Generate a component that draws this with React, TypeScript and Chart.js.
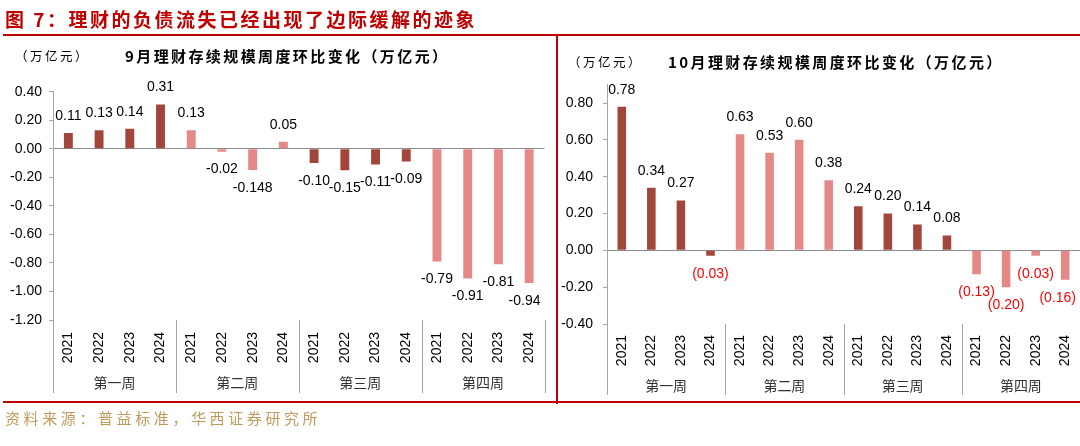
import React, { useEffect, useRef } from 'react';
import { Chart, registerables } from 'chart.js';

Chart.register(...registerables);

// ---- data ----
const years = ['2021', '2022', '2023', '2024'];
const weeks = ['第一周', '第二周', '第三周', '第四周'];
const septValues = [0.11, 0.13, 0.14, 0.31, 0.13, -0.02, -0.148, 0.05, -0.1, -0.15, -0.11, -0.09, -0.79, -0.91, -0.81, -0.94];
const octValues = [0.78, 0.34, 0.27, -0.03, 0.63, 0.53, 0.6, 0.38, 0.24, 0.2, 0.14, 0.08, -0.13, -0.2, -0.03, -0.16];
const septTicks = [-1.2, -1.0, -0.8, -0.6, -0.4, -0.2, 0, 0.2, 0.4];
const octTicks = [-0.4, -0.2, 0, 0.2, 0.4, 0.6, 0.8];
const septRange = [-1.2, 0.4];
const octRange = [-0.4, 0.9];

const mainTitle = '图 7：理财的负债流失已经出现了边际缓解的迹象';
const septTitle = '9月理财存续规模周度环比变化（万亿元）';
const octTitle = '10月理财存续规模周度环比变化（万亿元）';
const unitText = '（万亿元）';
const sourceText = '资料来源：普益标准，华西证券研究所';

const DARK = '#a2463c';
const LIGHT = '#e48987';
const SANS = '"Liberation Sans", Arial, sans-serif';
const CJK = '"Noto Sans CJK SC", sans-serif';

Chart.defaults.font.family = SANS;

const fmt = (v: number) => (Math.round(v * 100) / 100 === v ? v.toFixed(2) : String(v));

const barLabels = {
  id: 'barLabels',
  afterDatasetsDraw(chart: any, _args: any, opts: any) {
    const ctx = chart.ctx;
    const meta = chart.getDatasetMeta(0);
    const data = chart.data.datasets[0].data as number[];
    const area = chart.chartArea;
    ctx.save();
    ctx.font = '14px ' + SANS;
    ctx.textAlign = 'center';
    ctx.textBaseline = 'middle';
    meta.data.forEach((bar: any, i: number) => {
      const v = data[i];
      const neg = v < 0;
      let text = fmt(v);
      ctx.fillStyle = '#000';
      if (opts.paren && neg) {
        text = '(' + Math.abs(v).toFixed(2) + ')';
        ctx.fillStyle = '#ff0000';
      }
      const w = ctx.measureText(text).width;
      const x = Math.min(bar.x, area.right - w / 2 - 4);
      ctx.fillText(text, x, neg ? bar.y + 18 : bar.y - 17);
    });
    ctx.restore();
  },
};

const groupAxis = {
  id: 'groupAxis',
  afterDraw(chart: any, _args: any, opts: any) {
    const ctx = chart.ctx;
    const xs = chart.scales.x;
    const area = chart.chartArea;
    const step = xs.getPixelForValue(1) - xs.getPixelForValue(0);
    const per = years.length;
    ctx.save();
    ctx.strokeStyle = '#a6a6a6';
    ctx.lineWidth = 1;
    for (let g = 0; g <= weeks.length; g++) {
      const px = Math.round(xs.getPixelForValue(g * per) - step / 2) + 0.5;
      ctx.beginPath();
      ctx.moveTo(px, area.bottom);
      ctx.lineTo(px, opts.lineBottom);
      ctx.stroke();
    }
    ctx.font = '14px ' + CJK;
    ctx.fillStyle = '#333';
    ctx.textAlign = 'center';
    ctx.textBaseline = 'middle';
    weeks.forEach((w, g) => {
      const c = (xs.getPixelForValue(g * per) + xs.getPixelForValue(g * per + per - 1)) / 2;
      ctx.fillText(w, c, opts.labelY);
    });
    ctx.restore();
  },
};

type PanelProps = {
  values: number[];
  ticks: number[];
  range: number[];
  left: number;
  width: number;
  padTop: number;
  padRight: number;
  yWidth: number;
  xHeight: number;
  yPad: number;
  xPad: number;
  paren: boolean;
  lineBottom: number;
  labelY: number;
};

function Panel(p: PanelProps) {
  const ref = useRef<HTMLCanvasElement>(null);
  useEffect(() => {
    if (!ref.current) return;
    const labels = weeks.flatMap(() => years);
    const chart = new Chart(ref.current, {
      type: 'bar',
      data: {
        labels,
        datasets: [
          {
            data: p.values,
            backgroundColor: p.values.map((_, i) => (Math.floor(i / years.length) % 2 === 0 ? DARK : LIGHT)),
            barPercentage: 0.29,
            categoryPercentage: 1,
          },
        ],
      },
      options: {
        responsive: false,
        animation: false,
        layout: { padding: { top: p.padTop, right: p.padRight, left: 0, bottom: 0 } },
        plugins: {
          legend: { display: false },
          tooltip: { enabled: false },
          title: { display: false },
          barLabels: { paren: p.paren },
          groupAxis: { lineBottom: p.lineBottom, labelY: p.labelY },
        } as any,
        scales: {
          x: {
            grid: { display: false, drawTicks: false },
            border: { display: false },
            ticks: {
              minRotation: 90,
              maxRotation: 90,
              autoSkip: false,
              padding: p.xPad,
              color: '#000',
              font: { size: 14, family: SANS },
            },
            afterFit: (s: any) => {
              s.height = p.xHeight;
            },
          },
          y: {
            min: p.range[0],
            max: p.range[1],
            afterBuildTicks: (s: any) => {
              s.ticks = p.ticks.map((v) => ({ value: v }));
            },
            ticks: {
              callback: (v: any) => Number(v).toFixed(2),
              padding: p.yPad,
              color: '#000',
              font: { size: 14, family: SANS },
            },
            grid: {
              color: (c: any) => (c.tick && Math.abs(c.tick.value) < 1e-9 ? '#8c8c8c' : 'rgba(0,0,0,0)'),
              tickColor: '#a6a6a6',
              tickLength: 4,
              drawTicks: true,
            },
            border: { color: '#a6a6a6', width: 1 },
            afterFit: (s: any) => {
              s.width = p.yWidth;
            },
          },
        },
      },
      plugins: [barLabels, groupAxis],
    });
    return () => chart.destroy();
  }, []);
  return (
    <canvas
      ref={ref}
      width={p.width}
      height={446}
      style={{ position: 'absolute', left: p.left, top: 0, width: p.width, height: 446 }}
    />
  );
}

const textStyle = (left: number, centerY: number, size: number, extra: any = {}) => ({
  position: 'absolute' as const,
  left,
  top: centerY - 12,
  height: 24,
  lineHeight: '24px',
  fontSize: size,
  fontFamily: CJK,
  whiteSpace: 'nowrap' as const,
  ...extra,
});

export default function App() {
  return (
    <div
      style={{
        position: 'absolute',
        left: 0,
        top: 0,
        width: 1080,
        height: 446,
        overflow: 'hidden',
        background: '#fff',
      }}
    >
      <Panel
        values={septValues}
        ticks={septTicks}
        range={septRange}
        left={0}
        width={570}
        padTop={91.7}
        padRight={25.5}
        yWidth={53}
        xHeight={126}
        yPad={7}
        xPad={12}
        paren={false}
        lineBottom={393}
        labelY={383}
      />
      <Panel
        values={octValues}
        ticks={octTicks}
        range={octRange}
        left={557}
        width={553}
        padTop={84.6}
        padRight={30}
        yWidth={50}
        xHeight={122}
        yPad={10}
        xPad={11}
        paren={true}
        lineBottom={395}
        labelY={386}
      />
      <div style={textStyle(5, 19, 19, { color: '#c00000', fontWeight: 'bold', letterSpacing: '2.5px' })}>{mainTitle}</div>
      <div style={textStyle(15, 56, 12.5, { color: '#000', letterSpacing: '2.5px' })}>{unitText}</div>
      <div style={textStyle(125, 56, 15, { color: '#000', fontWeight: 'bold', letterSpacing: '2.4px' })}>{septTitle}</div>
      <div style={textStyle(568, 62, 12.5, { color: '#000', letterSpacing: '2.5px' })}>{unitText}</div>
      <div style={textStyle(668, 62, 15, { color: '#000', fontWeight: 'bold', letterSpacing: '2.4px' })}>{octTitle}</div>
      <div style={textStyle(5, 418, 15, { color: '#c09a5a', letterSpacing: '3.6px' })}>{sourceText}</div>
      <div style={{ position: 'absolute', left: 3, top: 34, width: 1077, height: 2, background: '#c00000' }} />
      <div style={{ position: 'absolute', left: 556, top: 34, width: 2, height: 370, background: '#c00000' }} />
      <div style={{ position: 'absolute', left: 3, top: 401, width: 1077, height: 2, background: '#c00000' }} />
    </div>
  );
}
